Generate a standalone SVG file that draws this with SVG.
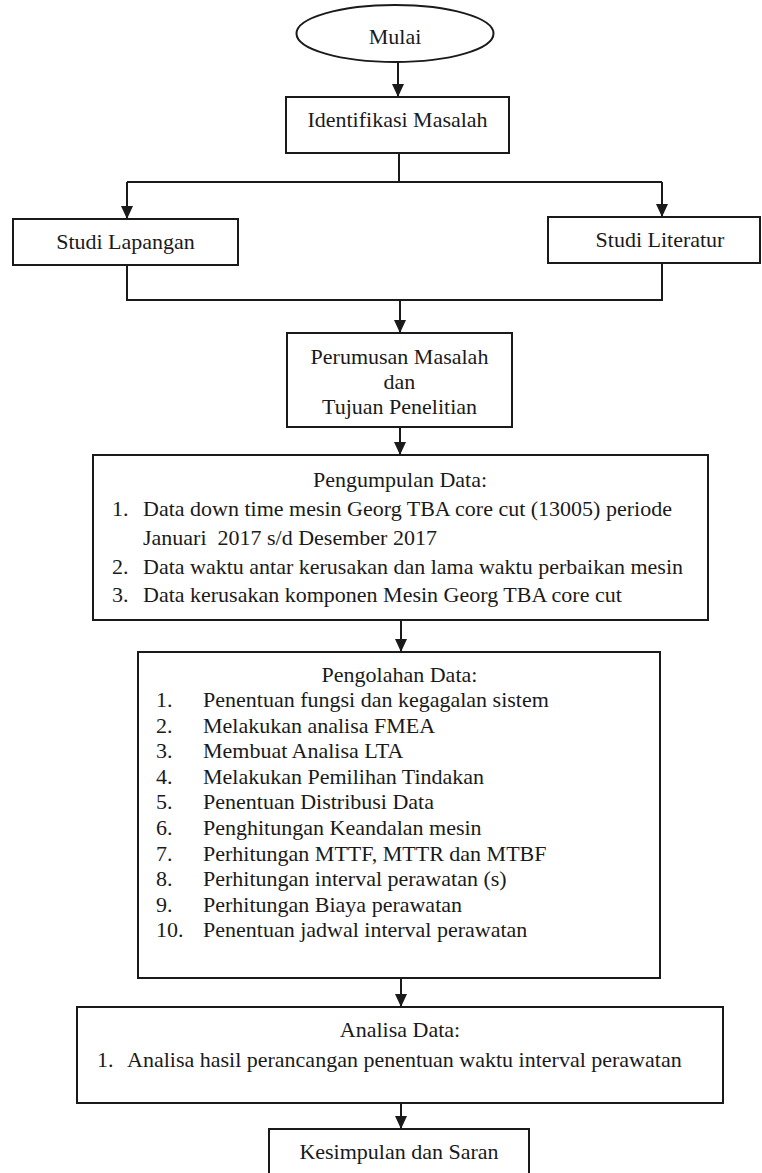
<svg xmlns="http://www.w3.org/2000/svg" width="762" height="1173" viewBox="0 0 762 1173">
<defs>
<style>
.box{fill:#fff;stroke:#1a1a1a;stroke-width:2}
.ln{fill:none;stroke:#1a1a1a;stroke-width:2}
.t{font-family:'Liberation Serif','Times New Roman',serif;font-size:22px;fill:#1a1a1a}
.c{text-anchor:middle}
</style>
<marker id="ah" viewBox="0 0 13 12" refX="13" refY="6" markerWidth="13" markerHeight="12" markerUnits="userSpaceOnUse" orient="auto">
<path d="M0,0 L13,6 L0,12 z" fill="#1a1a1a"/>
</marker>
</defs>
<rect width="762" height="1173" fill="#fff"/>
<g id="connectors">
<line class="ln" x1="398" y1="62" x2="398" y2="97" marker-end="url(#ah)"/>
<polyline class="ln" points="399,153 399,182"/>
<polyline class="ln" points="127,182 662,182"/>
<line class="ln" x1="127" y1="182" x2="127" y2="219" marker-end="url(#ah)"/>
<line class="ln" x1="662" y1="182" x2="662" y2="217" marker-end="url(#ah)"/>
<polyline class="ln" points="127,265 127,300 662,300 662,263"/>
<line class="ln" x1="400" y1="300" x2="400" y2="333" marker-end="url(#ah)"/>
<line class="ln" x1="400" y1="427" x2="400" y2="455" marker-end="url(#ah)"/>
<line class="ln" x1="401" y1="620" x2="401" y2="652" marker-end="url(#ah)"/>
<line class="ln" x1="401" y1="978" x2="401" y2="1007" marker-end="url(#ah)"/>
<line class="ln" x1="401" y1="1103" x2="401" y2="1129" marker-end="url(#ah)"/>
</g>
<g id="mulai">
<ellipse class="box" cx="395" cy="33.5" rx="98.5" ry="28.5"/>
<text class="t c" x="395" y="44">Mulai</text>
</g>
<g id="identifikasi">
<rect class="box" x="286" y="97" width="223" height="56"/>
<text class="t c" x="397.5" y="127">Identifikasi Masalah</text>
</g>
<g id="studi-lapangan">
<rect class="box" x="13" y="219" width="225" height="46"/>
<text class="t c" x="125.5" y="249">Studi Lapangan</text>
</g>
<g id="studi-literatur">
<rect class="box" x="548" y="217" width="212" height="46"/>
<text class="t c" x="660" y="247">Studi Literatur</text>
</g>
<g id="perumusan">
<rect class="box" x="287" y="333" width="225" height="94"/>
<text class="t c" x="399.5" y="364">Perumusan Masalah</text>
<text class="t c" x="399.5" y="389">dan</text>
<text class="t c" x="399.5" y="414">Tujuan Penelitian</text>
</g>
<g id="pengumpulan">
<rect class="box" x="93" y="455" width="615" height="165"/>
<text class="t c" x="400" y="487">Pengumpulan Data:</text>
<text class="t" x="112" y="516">1.</text>
<text class="t" x="143" y="516">Data down time mesin Georg TBA core cut (13005) periode</text>
<text class="t" x="143" y="545" xml:space="preserve">Januari  2017 s/d Desember 2017</text>
<text class="t" x="112" y="574">2.</text>
<text class="t" x="143" y="574">Data waktu antar kerusakan dan lama waktu perbaikan mesin</text>
<text class="t" x="112" y="602">3.</text>
<text class="t" x="143" y="602">Data kerusakan komponen Mesin Georg TBA core cut</text>
</g>
<g id="pengolahan">
<rect class="box" x="138" y="652" width="522" height="326"/>
<text class="t c" x="399.5" y="682">Pengolahan Data:</text>
<text class="t" x="156" y="707">1.</text><text class="t" x="203" y="707">Penentuan fungsi dan kegagalan sistem</text>
<text class="t" x="156" y="733">2.</text><text class="t" x="203" y="733">Melakukan analisa FMEA</text>
<text class="t" x="156" y="758">3.</text><text class="t" x="203" y="758">Membuat Analisa LTA</text>
<text class="t" x="156" y="784">4.</text><text class="t" x="203" y="784">Melakukan Pemilihan Tindakan</text>
<text class="t" x="156" y="809">5.</text><text class="t" x="203" y="809">Penentuan Distribusi Data</text>
<text class="t" x="156" y="835">6.</text><text class="t" x="203" y="835">Penghitungan Keandalan mesin</text>
<text class="t" x="156" y="861">7.</text><text class="t" x="203" y="861">Perhitungan MTTF, MTTR dan MTBF</text>
<text class="t" x="156" y="886">8.</text><text class="t" x="203" y="886">Perhitungan interval perawatan (s)</text>
<text class="t" x="156" y="912">9.</text><text class="t" x="203" y="912">Perhitungan Biaya perawatan</text>
<text class="t" x="156" y="937">10.</text><text class="t" x="203" y="937">Penentuan jadwal interval perawatan</text>
</g>
<g id="analisa">
<rect class="box" x="77" y="1007" width="646" height="96"/>
<text class="t c" x="400" y="1037">Analisa Data:</text>
<text class="t" x="97" y="1067">1.</text>
<text class="t" x="127" y="1067">Analisa hasil perancangan penentuan waktu interval perawatan</text>
</g>
<g id="kesimpulan">
<rect class="box" x="269" y="1129" width="260" height="46"/>
<text class="t c" x="399" y="1159">Kesimpulan dan Saran</text>
</g>
</svg>
